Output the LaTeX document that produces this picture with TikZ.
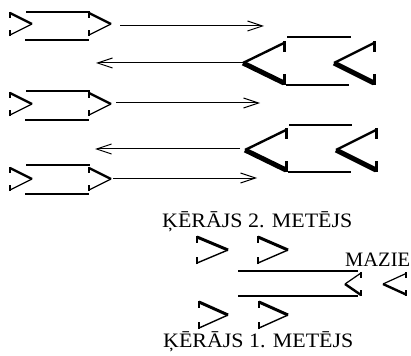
\documentclass[tikz,border=0pt]{standalone}
\usepackage{fontspec}
\setmainfont{Liberation Serif}
\newfontfamily\lblfont{Liberation Serif}[FakeStretch=1.07]
\usetikzlibrary{arrows.meta}
\tikzset{
  bar/.style={line width=1.3pt},
  longbar/.style={line width=2pt},
  pass/.style={line width=1pt,
    -{Straight Barb[length=15pt,width=10pt,line width=1pt]}},
  lbl/.style={font=\lblfont\fontsize{20.5}{24}\selectfont, inner sep=0pt, anchor=base west},
  side/.style={font=\fontsize{20.5}{24}\selectfont, inner sep=0pt, anchor=base west},
  % a serif chevron pointing right: tip at (0,0), open ends at (-1,-1) and (-1,1)
  chev/.pic={
    \draw[line width=\chevthick, line cap=butt] (-1,-1) -- (0,0);
    \draw[line width=\chevthin, line cap=butt] (-1,1) -- (0,0);
    \draw[line width=\chevserif, line cap=butt] (-1,-1.1) -- (-1,-0.55);
    \draw[line width=\chevserif, line cap=butt] (-1,1.1) -- (-1,0.55);
  },
  chev small/.code={\def\chevthick{2.4pt}\def\chevthin{1.2pt}\def\chevserif{1.6pt}},
  chev mid/.code={\def\chevthick{3pt}\def\chevthin{1.4pt}\def\chevserif{1.9pt}},
  chev big/.code={\def\chevthick{5pt}\def\chevthin{2.4pt}\def\chevserif{3pt}},
}
\begin{document}
\begin{tikzpicture}[x=1pt,y=-1pt]
\useasboundingbox (0,0) rectangle (411,355);

% ---- row 1: left pair
\draw[bar] (26,12) -- (90,12);
\draw[bar] (25,40) -- (89,40);
\pic[chev small, xscale=22, yscale=11] at (32,24) {chev};
\pic[chev small, xscale=22, yscale=11] at (111,24) {chev};
\coordinate (a1s) at (120,26);
\coordinate (a1e) at (264,26);
\draw[pass] (a1s) -- (a1e);

% ---- row 2: right pair
\draw[bar] (287,37) -- (351,37);
\draw[bar] (286,85) -- (349,85);
\pic[chev big, rotate=180, xscale=41, yscale=20] at (243,63) {chev};
\pic[chev big, rotate=180, xscale=40, yscale=20] at (334,63) {chev};
\coordinate (a2s) at (243,63);
\coordinate (a2e) at (96,63);
\draw[pass] (a2s) -- (a2e);

% ---- row 3: left pair
\draw[bar] (26,91) -- (90,91);
\draw[bar] (25,120) -- (89,120);
\pic[chev small, xscale=22, yscale=11] at (32,104) {chev};
\pic[chev small, xscale=22, yscale=11] at (111,104) {chev};
\coordinate (a3s) at (116,103);
\coordinate (a3e) at (260,103);
\draw[pass] (a3s) -- (a3e);

% ---- row 4: right pair
\draw[bar] (289,125) -- (352,125);
\draw[bar] (288,172) -- (351,172);
\pic[chev big, rotate=180, xscale=41, yscale=20] at (245,150) {chev};
\pic[chev big, rotate=180, xscale=40, yscale=20] at (336,150) {chev};
\coordinate (a4s) at (240,149);
\coordinate (a4e) at (95,149);
\draw[pass] (a4s) -- (a4e);

% ---- row 5: left pair
\draw[bar] (26,165) -- (90,165);
\draw[bar] (25,194) -- (89,194);
\pic[chev small, xscale=22, yscale=11] at (32,179) {chev};
\pic[chev small, xscale=22, yscale=11] at (111,179) {chev};
\coordinate (a5s) at (113,178);
\coordinate (a5e) at (257,178);
\draw[pass] (a5s) -- (a5e);

% ---- lower scheme
\node[lbl] (top) at (162,227) {ĶĒRĀJS 2. METĒJS};
\node[side] (mazie) at (345,266) {MAZIE};
\node[lbl] (bot) at (163,347) {ĶĒRĀJS 1. METĒJS};

\pic[chev mid, xscale=31, yscale=13] at (228,250) {chev};
\pic[chev mid, xscale=30, yscale=13] at (288,250) {chev};
\pic[chev mid, xscale=29, yscale=13] at (228,315) {chev};
\pic[chev mid, xscale=29, yscale=13] at (288,315) {chev};

\draw[longbar] (238,271) -- (358,271);
\draw[longbar] (238,296) -- (358,296);

\pic[chev small, rotate=180, xscale=16, yscale=11] at (345,284) {chev};
\pic[chev small, rotate=180, xscale=23, yscale=10.5] at (383,284) {chev};
\end{tikzpicture}
\end{document}
